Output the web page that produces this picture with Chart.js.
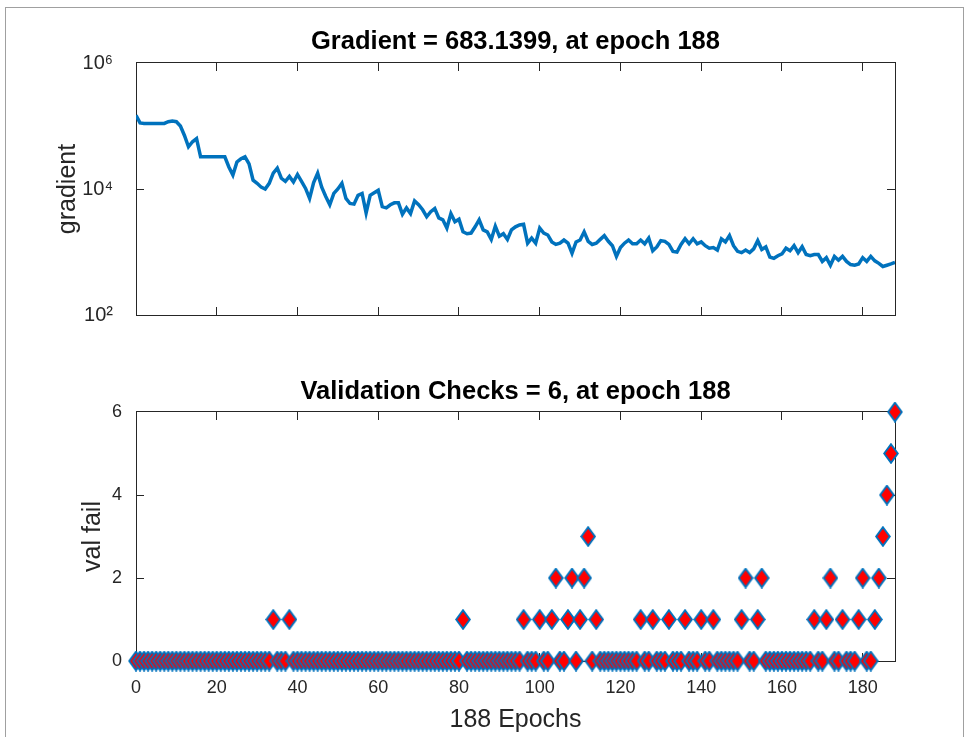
<!DOCTYPE html>
<html><head><meta charset="utf-8">
<script src="https://cdn.jsdelivr.net/npm/chart.js@4/dist/chart.umd.min.js"></script>
<style>
html,body{margin:0;padding:0;background:#fff;width:974px;height:737px;overflow:hidden;}
#frame{position:absolute;left:5px;top:7px;width:959px;height:760px;border:1px solid #a0a0a0;box-sizing:border-box;}
#c1{position:absolute;left:0;top:0;}
#c2{position:absolute;left:0;top:345px;}
</style></head><body>
<div id="frame"></div>
<canvas id="c1" width="974" height="345"></canvas>
<canvas id="c2" width="974" height="392"></canvas>
<script>
// ---------- data ----------
const epochs = Array.from({length: 189}, (_, i) => i);
const gradient = [
  148000,112000,110000,110000,110000,110000,110000,110000,117000,120000,
  117000,100000,70800,46800,56200,63100,32400,32400,32400,32400,
  32400,32400,32400,22400,16600,26900,30200,32400,25100,13800,
  12300,10700,10000,12300,17800,21400,14800,13200,15800,12900,
  17000,13200,10200,7080,12600,17800,10700,7590,5620,8510,
  10000,12300,7080,5890,5750,7940,8510,4170,7940,8710,
  9550,5250,5010,5620,6030,6030,3980,5010,4070,6460,
  5620,4680,3630,4370,4900,3470,3240,2400,4070,3020,
  3310,2090,1950,2000,2510,3240,2240,2090,1585,2570,
  1778,1950,1585,2240,2510,2690,2750,1380,1660,1380,
  2400,2000,1862,1445,1318,1380,1549,1380,955,1445,
  1549,2090,1479,1318,1380,1585,1820,1479,1259,851,
  1175,1380,1549,1349,1349,1549,1349,1660,1047,1202,
  1514,1479,1318,1023,1000,1318,1622,1349,1622,1349,
  1445,1259,1148,1175,1072,1622,1445,1820,1259,1023,
  977,1072,977,1122,1514,1096,1202,832,794,871,
  933,1148,1047,1259,977,1216,912,871,912,912,
  708,813,617,851,741,851,708,631,617,646,
  813,708,851,724,661,589,617,646,683.1399
];
const valFail = [
  0,0,0,0,0,0,0,0,0,0,0,0,0,0,0,0,0,0,0,0,
  0,0,0,0,0,0,0,0,0,0,0,0,0,0,1,0,0,0,1,0,
  0,0,0,0,0,0,0,0,0,0,0,0,0,0,0,0,0,0,0,0,
  0,0,0,0,0,0,0,0,0,0,0,0,0,0,0,0,0,0,0,0,
  0,1,0,0,0,0,0,0,0,0,0,0,0,0,0,0,1,0,0,0,
  1,0,0,1,2,0,0,1,2,0,1,2,3,0,1,0,0,0,0,0,
  0,0,0,0,0,1,0,0,1,0,0,0,1,0,0,0,1,0,0,0,
  1,0,0,1,0,0,0,0,0,0,1,2,0,0,1,2,0,0,0,0,
  0,0,0,0,0,0,0,0,1,0,0,1,2,0,0,1,0,0,0,1,
  2,0,0,1,2,3,4,5,6
];
const xTicks = [0,20,40,60,80,100,120,140,160,180];
const gradTicks = [100, 10000, 1000000];
const gradTickLabels = ['10\u00B2', '10\u2074', '10\u2076'];
const failTicks = [0,2,4,6];
const titles = ['Gradient = 683.1399, at epoch 188', 'Validation Checks = 6, at epoch 188'];
const yLabels = ['gradient', 'val fail'];
const xLabel = '188 Epochs';

// ---------- style ----------
const FAM = "'Liberation Sans', Arial, Helvetica, sans-serif";
const AX = '#262626';
const BLUE = '#0072BD';
const TICK_FONT = {family: FAM, size: 18};
const SUP_FONT = {family: FAM, size: 20};
const LAB_FONT = {family: FAM, size: 25, lineHeight: 1.2};
const TITLE_FONT = {family: FAM, size: 25.5, weight: 'bold', lineHeight: 1.2};
const TLH = 30.6; // title line height

function diamond() {
  const c = document.createElement('canvas');
  c.width = 16; c.height = 21;
  const g = c.getContext('2d');
  g.beginPath();
  g.moveTo(8, 1.2); g.lineTo(14.8, 10.5); g.lineTo(8, 19.8); g.lineTo(1.2, 10.5); g.closePath();
  g.fillStyle = '#ff0000'; g.fill();
  g.lineWidth = 1.9; g.strokeStyle = BLUE; g.stroke();
  return c;
}

function setTicks(arr) { return s => { s.ticks = arr.map(v => ({value: v})); }; }
function fixSize(dim, val) {
  return s => { s[dim] = val; s.paddingTop = 0; s.paddingBottom = 0; s.paddingLeft = 0; s.paddingRight = 0; };
}
const gridOpts = {drawOnChartArea: false, drawTicks: true, tickLength: -8, tickColor: AX, lineWidth: 1};
const borderOpts = {display: true, color: AX, width: 1};

function mirrorX() {
  return {type: 'linear', position: 'top', min: 0, max: 188,
    afterBuildTicks: setTicks(xTicks), afterFit: fixSize('height', 0),
    ticks: {display: false}, grid: gridOpts, border: borderOpts};
}

const chartTop = 63, chartBot = 315;   // top plot area in page coords
new Chart(document.getElementById('c1'), {
  type: 'line',
  data: {labels: epochs, datasets: [{data: gradient, borderColor: BLUE, borderWidth: 3.5,
    pointRadius: 0, tension: 0, fill: false}]},
  options: {
    responsive: false, animation: false, events: [],
    layout: {padding: {left: 0, right: 79, top: 0, bottom: 0}},
    plugins: {
      legend: {display: false}, tooltip: {enabled: false},
      title: {display: true, text: titles[0], fullSize: false, color: '#000', font: TITLE_FONT,
        padding: {top: 42 - TLH / 2, bottom: chartTop - (42 - TLH / 2) - TLH}}
    },
    scales: {
      x: {type: 'linear', position: 'bottom', min: 0, max: 188,
        afterBuildTicks: setTicks(xTicks), afterFit: fixSize('height', 345 - chartBot),
        ticks: {display: false}, grid: gridOpts, border: borderOpts},
      x2: mirrorX(),
      y: {type: 'logarithmic', position: 'left', min: 100, max: 1000000,
        afterBuildTicks: setTicks(gradTicks), afterFit: fixSize('width', 136),
        ticks: {color: AX, font: SUP_FONT, padding: 31,
          callback: v => gradTickLabels[gradTicks.indexOf(v)]},
        title: {display: true, text: yLabels[0], color: AX, font: LAB_FONT, padding: {top: 68 - 15}},
        grid: gridOpts, border: borderOpts},
      y2: {type: 'logarithmic', position: 'right', min: 100, max: 1000000,
        afterBuildTicks: setTicks(gradTicks), afterFit: fixSize('width', 0),
        ticks: {display: false}, grid: gridOpts, border: borderOpts}
    }
  }
});

const c2Top = 345;
const area2Top = 412 - c2Top, area2Bot = 661 - c2Top;
new Chart(document.getElementById('c2'), {
  type: 'line',
  data: {labels: epochs, datasets: [{data: valFail, showLine: false, pointStyle: diamond(),
    pointRadius: 8, borderColor: BLUE, backgroundColor: '#ff0000', clip: false}]},
  options: {
    responsive: false, animation: false, events: [],
    layout: {padding: {left: 0, right: 79, top: 0, bottom: 0}},
    plugins: {
      legend: {display: false}, tooltip: {enabled: false},
      title: {display: true, text: titles[1], fullSize: false, color: '#000', font: TITLE_FONT,
        padding: {top: 47 - TLH / 2, bottom: area2Top - (47 - TLH / 2) - TLH}}
    },
    scales: {
      x: {type: 'linear', position: 'bottom', min: 0, max: 188,
        afterBuildTicks: setTicks(xTicks), afterFit: fixSize('height', 392 - area2Bot),
        ticks: {color: AX, font: TICK_FONT, padding: 8 + 16, maxRotation: 0},
        title: {display: true, text: xLabel, color: AX, font: LAB_FONT, padding: {bottom: 2}},
        grid: gridOpts, border: borderOpts},
      x2: mirrorX(),
      y: {type: 'linear', position: 'left', min: 0, max: 6,
        afterBuildTicks: setTicks(failTicks), afterFit: fixSize('width', 136),
        ticks: {color: AX, font: TICK_FONT, padding: 22},
        title: {display: true, text: yLabels[1], color: AX, font: LAB_FONT, padding: {top: 93 - 15}},
        grid: gridOpts, border: borderOpts},
      y2: {type: 'linear', position: 'right', min: 0, max: 6,
        afterBuildTicks: setTicks(failTicks), afterFit: fixSize('width', 0),
        ticks: {display: false}, grid: gridOpts, border: borderOpts}
    }
  }
});
</script>
</body></html>
